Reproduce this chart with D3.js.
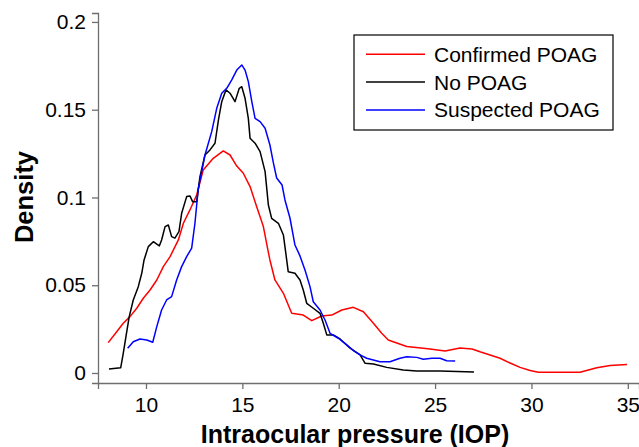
<!DOCTYPE html>
<html>
<head>
<meta charset="utf-8">
<script src="https://cdn.jsdelivr.net/npm/d3@7"></script>
<style>
  body { margin: 0; background: #fff; }
  text { font-family: "Liberation Sans", Arial, sans-serif; }
</style>
</head>
<body>
<div id="chart"></div>
<script>
// series: [IOP, density] pairs
const confirmedPOAG = [
  [8.04, 0.0173], [8.48, 0.0235], [8.82, 0.0283], [9.17, 0.0321], [9.52, 0.0369],
  [9.86, 0.0426], [10.21, 0.0473], [10.56, 0.0530], [10.90, 0.0606], [11.25, 0.0663],
  [11.68, 0.0758], [11.94, 0.0853], [12.28, 0.0929], [12.63, 0.1014], [12.97, 0.1157],
  [13.49, 0.1223], [14.01, 0.1265], [14.36, 0.1242], [14.71, 0.1179], [15.05, 0.1138],
  [15.40, 0.1062], [15.74, 0.0948], [16.09, 0.0834], [16.35, 0.0687], [16.43, 0.0644],
  [16.69, 0.0530], [17.13, 0.0454], [17.56, 0.0340], [18.16, 0.0330], [18.60, 0.0298],
  [19.12, 0.0325], [19.64, 0.0330], [20.16, 0.0359], [20.76, 0.0374], [21.28, 0.0349],
  [21.80, 0.0283], [22.23, 0.0226], [22.57, 0.0188], [23.53, 0.0151], [24.63, 0.0138],
  [25.52, 0.0125], [26.29, 0.0142], [26.92, 0.0137], [27.33, 0.0121], [27.85, 0.0103],
  [28.37, 0.0084], [28.89, 0.0057], [29.41, 0.0032], [29.93, 0.0014], [30.36, 0.0004],
  [32.52, 0.0004], [33.39, 0.0030], [34.08, 0.0043], [34.96, 0.0048]
];
const noPOAG = [
  [8.08, 0.0023], [8.69, 0.0030], [8.82, 0.0112], [8.96, 0.0207], [9.13, 0.0321],
  [9.34, 0.0416], [9.60, 0.0492], [9.78, 0.0568], [9.90, 0.0644], [10.12, 0.0720],
  [10.38, 0.0748], [10.69, 0.0724], [10.81, 0.0758], [10.99, 0.0834], [11.16, 0.0843],
  [11.33, 0.0777], [11.50, 0.0768], [11.71, 0.0805], [11.85, 0.0910], [12.11, 0.1005],
  [12.28, 0.1009], [12.42, 0.0976], [12.63, 0.0976], [12.80, 0.1119], [13.06, 0.1242],
  [13.32, 0.1271], [13.58, 0.1309], [13.76, 0.1442], [13.93, 0.1546], [14.15, 0.1613],
  [14.36, 0.1594], [14.62, 0.1546], [14.84, 0.1622], [14.97, 0.1631], [15.14, 0.1565],
  [15.31, 0.1451], [15.40, 0.1337], [15.66, 0.1309], [15.92, 0.1261], [16.18, 0.1147],
  [16.35, 0.0957], [16.52, 0.0881], [16.87, 0.0853], [17.13, 0.0786], [17.21, 0.0720],
  [17.38, 0.0577], [17.73, 0.0568], [17.99, 0.0530], [18.16, 0.0473], [18.34, 0.0397],
  [18.68, 0.0369], [19.03, 0.0340], [19.20, 0.0283], [19.38, 0.0217], [19.72, 0.0217],
  [20.07, 0.0194], [20.59, 0.0141], [21.11, 0.0103], [21.37, 0.0055], [21.80, 0.0051],
  [22.49, 0.0032], [23.35, 0.0017], [24.05, 0.0011], [25.26, 0.0011], [27.02, 0.0006]
];
const suspectedPOAG = [
  [9.05, 0.0141], [9.34, 0.0178], [9.69, 0.0194], [10.04, 0.0188], [10.35, 0.0175],
  [10.56, 0.0264], [10.81, 0.0359], [11.07, 0.0416], [11.33, 0.0435], [11.59, 0.0530],
  [11.85, 0.0606], [12.11, 0.0663], [12.37, 0.0711], [12.54, 0.0853], [12.71, 0.1048],
  [13.06, 0.1242], [13.41, 0.1375], [13.67, 0.1508], [13.93, 0.1594], [14.19, 0.1622],
  [14.45, 0.1670], [14.71, 0.1726], [14.97, 0.1755], [15.14, 0.1726], [15.31, 0.1660],
  [15.49, 0.1546], [15.66, 0.1451], [15.92, 0.1432], [16.18, 0.1394], [16.43, 0.1299],
  [16.61, 0.1197], [16.78, 0.1111], [17.06, 0.1071], [17.21, 0.0986], [17.47, 0.0883],
  [17.73, 0.0729], [17.99, 0.0667], [18.25, 0.0587], [18.51, 0.0492], [18.68, 0.0406],
  [19.03, 0.0359], [19.29, 0.0302], [19.55, 0.0226], [19.98, 0.0198], [20.42, 0.0160],
  [20.76, 0.0128], [21.11, 0.0103], [21.45, 0.0084], [22.14, 0.0064], [22.66, 0.0064],
  [23.18, 0.0084], [23.53, 0.0093], [24.05, 0.0089], [24.39, 0.0078], [24.83, 0.0084],
  [25.26, 0.0084], [25.60, 0.0070], [26.04, 0.0068]
];

const seriesNames = ["Confirmed POAG", "No POAG", "Suspected POAG"];
const seriesColors = ["#ff0000", "#000000", "#0000ff"];
const xTicks = [10, 15, 20, 25, 30, 35];
const yTicks = [0, 0.05, 0.1, 0.15, 0.2];
const yTickLabels = ["0", "0.05", "0.1", "0.15", "0.2"];

const width = 639, height = 447;

let svg = d3.select("#chart").append("svg")
    .attr("width", width)
    .attr("height", height);

// axis range is a bit wider than the data, like the original plot
let x = d3.scaleLinear().domain([7.51, 35.58]).range([98, 639]);
let y = d3.scaleLinear().domain([-0.0057, 0.2051]).range([383, 13]);

let xAxis = svg.append("g")
    .attr("transform", "translate(0," + y.range()[0] + ")")
    .call(d3.axisBottom(x).tickValues(xTicks).tickSizeOuter(0).tickSize(6).tickPadding(5));

let yAxis = svg.append("g")
    .attr("transform", "translate(" + x.range()[0] + ",0)")
    .call(d3.axisLeft(y).tickValues(yTicks).tickSizeOuter(0).tickSize(6).tickPadding(6)
        .tickFormat((d, i) => yTickLabels[i]));

[xAxis, yAxis].forEach(a => {
    a.selectAll("path, line").attr("stroke", "#6e6e6e").attr("stroke-width", 1.3);
    a.selectAll("text").attr("fill", "#000").style("font-size", "21px");
});
xAxis.selectAll("text").attr("dy", "0.88em");

// curves
let line = d3.line().x(d => x(d[0])).y(d => y(d[1]));
let allSeries = [confirmedPOAG, noPOAG, suspectedPOAG];

svg.selectAll(".curve")
    .data(allSeries)
    .enter().append("path")
    .attr("class", "curve")
    .attr("d", line)
    .attr("fill", "none")
    .attr("stroke", (d, i) => seriesColors[i])
    .attr("stroke-width", 1.5)
    .attr("stroke-linejoin", "round");

// axis titles
svg.append("text")
    .attr("x", 355)
    .attr("y", 443)
    .attr("text-anchor", "middle")
    .style("font-size", "25px")
    .style("font-weight", "bold")
    .text("Intraocular pressure (IOP)");

svg.append("text")
    .attr("transform", "translate(33,197) rotate(-90)")
    .attr("text-anchor", "middle")
    .style("font-size", "25.5px")
    .style("font-weight", "bold")
    .text("Density");

// legend
let legend = svg.append("g").attr("transform", "translate(354,35)");
legend.append("rect")
    .attr("width", 259)
    .attr("height", 95)
    .attr("fill", "#fff")
    .attr("stroke", "#000")
    .attr("stroke-width", 1.2);

let items = legend.selectAll(".legend-item")
    .data(seriesNames)
    .enter().append("g")
    .attr("class", "legend-item")
    .attr("transform", (d, i) => "translate(0," + (19.3 + i * 27.8) + ")");

items.append("line")
    .attr("x1", 12).attr("x2", 71)
    .attr("stroke", (d, i) => seriesColors[i])
    .attr("stroke-width", 1.5);

items.append("text")
    .attr("x", 80)
    .attr("dy", "0.36em")
    .style("font-size", "21px")
    .text(d => d);
</script>
</body>
</html>
